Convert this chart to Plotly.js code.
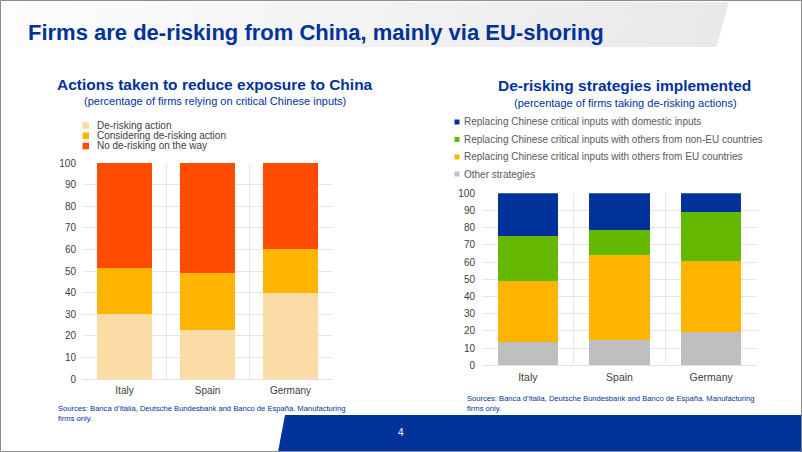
<!DOCTYPE html>
<html><head><meta charset="utf-8">
<script src="https://cdn.plot.ly/plotly-3.0.1.min.js"></script>
<style>html,body{margin:0;padding:0;background:#fff}#chart{width:802px;height:452px}</style>
</head><body><div id="chart"></div>
<script>
// ---------- data ----------
const countries = ['Italy', 'Spain', 'Germany'];
const yTickVals = [0, 10, 20, 30, 40, 50, 60, 70, 80, 90, 100];

const actionNames = ['De-risking action', 'Considering de-risking action', 'No de-risking on the way'];
const deRiskingAction = [30, 22.5, 40];
const consideringAction = [21.5, 26.5, 20];
const noDeRisking = [48.5, 51, 40];

const strategyNames = [
  'Replacing Chinese critical inputs with domestic inputs',
  'Replacing Chinese critical inputs with others from non-EU countries',
  'Replacing Chinese critical inputs with others from EU countries',
  'Other strategies'
];
const domesticInputs = [25, 21.5, 11];
const nonEuCountries = [26, 14.5, 28.5];
const euCountries = [35.5, 49.5, 41];
const otherStrategies = [13.5, 14.5, 19.5];

const slideTitle = 'Firms are de-risking from China, mainly via EU-shoring';
const leftTitle = 'Actions taken to reduce exposure to China';
const leftSubtitle = '(percentage of firms relying on critical Chinese inputs)';
const rightTitle = 'De-risking strategies implemented';
const rightSubtitle = '(percentage of firms taking de-risking actions)';
const sourceLine1 = 'Sources: Banca d’Italia, Deutsche Bundesbank and Banco de España. Manufacturing';
const sourceLine2 = 'firms only.';
const pageNumber = '4';

// ---------- styling ----------
const W = 802, H = 452;
const px = x => x / W;
const py = y => 1 - y / H;
const BLUE = '#003299';
const FONT = 'Liberation Sans, Arial, sans-serif';
const leftColors = ['#FBDBA6', '#FFB400', '#FF4B00'];
const rightColors = ['#003299', '#65B800', '#FFB400', '#BFBFBF'];

const leftSeries = [deRiskingAction, consideringAction, noDeRisking];
const rightSeries = [otherStrategies, euCountries, nonEuCountries, domesticInputs];
const rightSeriesColors = [rightColors[3], rightColors[2], rightColors[1], rightColors[0]];
const rightSeriesNames = [strategyNames[3], strategyNames[2], strategyNames[1], strategyNames[0]];

const traces = [];
leftSeries.forEach((vals, i) => traces.push({
  type: 'bar', x: countries, y: vals, name: actionNames[i],
  marker: {color: leftColors[i], line: {width: 0}},
  xaxis: 'x', yaxis: 'y', showlegend: false, hoverinfo: 'skip'
}));
rightSeries.forEach((vals, i) => traces.push({
  type: 'bar', x: countries, y: vals, name: rightSeriesNames[i],
  marker: {color: rightSeriesColors[i], line: {width: 0}},
  xaxis: 'x2', yaxis: 'y2', showlegend: false, hoverinfo: 'skip'
}));

const tickFont = {family: FONT, size: 10, color: '#404040'};
function xAx(domain, size) {
  return {domain, type: 'category', showgrid: true, gridcolor: '#e6e6e6', gridwidth: 1,
    tickson: 'boundaries', ticks: '', showline: true, linecolor: '#e0e0e0', linewidth: 1,
    tickfont: Object.assign({}, tickFont, {size}), fixedrange: true, ticklabelstandoff: 2};
}
function yAx(domain, anchor) {
  return {domain, anchor, range: [0, 100], tickvals: yTickVals, showgrid: true, gridcolor: '#e6e6e6',
    gridwidth: 1, zeroline: false, showline: false, ticks: '', tickfont: tickFont,
    ticklabelstandoff: 6, fixedrange: true};
}

// header gradient strips
const shapes = [];
const nStrips = 30, hx0 = 0, hx1 = 728, hy0 = 2, hy1 = 47, slant = 12;
for (let i = 0; i < nStrips; i++) {
  const a = hx0 + (hx1 - hx0) * i / nStrips, b = hx0 + (hx1 - hx0) * (i + 1) / nStrips + 0.6;
  const t = i / (nStrips - 1);
  const c = Math.round(253 - t * 20);
  shapes.push({type: 'path', xref: 'paper', yref: 'paper', layer: 'below', line: {width: 0},
    fillcolor: `rgb(${c},${c},${c})`,
    path: `M${px(a)},${py(hy0)} L${px(b)},${py(hy0)} L${px(b - slant)},${py(hy1)} L${px(a - slant)},${py(hy1)} Z`});
}
// bottom blue band
shapes.push({type: 'path', xref: 'paper', yref: 'paper', layer: 'below', line: {width: 0}, fillcolor: BLUE,
  path: `M${px(285)},${py(415)} L${px(802)},${py(415)} L${px(802)},${py(452)} L${px(278)},${py(452)} Z`});
// slide border
shapes.push({type: 'rect', xref: 'paper', yref: 'paper', layer: 'above', fillcolor: 'rgba(0,0,0,0)',
  line: {color: '#8a8a8a', width: 1}, x0: px(0.5), x1: px(801.5), y0: py(0.5), y1: py(451.5)});

const annotations = [];
function txt(text, x, y, size, opts) {
  annotations.push(Object.assign({text, x: px(x), y: py(y), xref: 'paper', yref: 'paper', showarrow: false,
    xanchor: 'left', yanchor: 'middle', font: {family: FONT, size, color: '#404040'}}, opts || {}));
}
// titles
txt('<b>' + slideTitle + '</b>', 26, 32, 22, {font: {family: FONT, size: 22, color: BLUE}});
txt('<b>' + leftTitle + '</b>', 215, 84, 15.5, {xanchor: 'center', font: {family: FONT, size: 15.5, color: BLUE}});
txt(leftSubtitle, 215, 101, 11, {xanchor: 'center', font: {family: FONT, size: 11, color: BLUE}});
txt('<b>' + rightTitle + '</b>', 624, 86, 15.5, {xanchor: 'center', font: {family: FONT, size: 15.5, color: BLUE}});
txt(rightSubtitle, 625, 103, 11, {xanchor: 'center', font: {family: FONT, size: 11, color: BLUE}});

// legends (left)
const leftLegY = [125.5, 135.8, 146];
actionNames.forEach((n, i) => {
  shapes.push({type: 'rect', xref: 'paper', yref: 'paper', line: {width: 0}, fillcolor: leftColors[i],
    x0: px(82.5), x1: px(89), y0: py(leftLegY[i] - 3.3), y1: py(leftLegY[i] + 3.3)});
  txt(n, 95, leftLegY[i], 10, {font: {family: FONT, size: 10, color: '#404040'}});
});
// legends (right)
const rightLegY = [122, 139.5, 157, 174];
strategyNames.forEach((n, i) => {
  shapes.push({type: 'rect', xref: 'paper', yref: 'paper', line: {width: 0}, fillcolor: rightColors[i],
    x0: px(454.5), x1: px(459.5), y0: py(rightLegY[i] - 2.5), y1: py(rightLegY[i] + 2.5)});
  txt(n, 461.5, rightLegY[i], 10, {font: {family: FONT, size: 10, color: '#595959'}});
});
// sources
txt(sourceLine1, 55.5, 408, 7.6, {font: {family: FONT, size: 7.6, color: BLUE}});
txt(sourceLine2, 55.5, 418, 7.6, {font: {family: FONT, size: 7.6, color: BLUE}});
txt(sourceLine1, 464.5, 398, 7.6, {font: {family: FONT, size: 7.6, color: BLUE}});
txt(sourceLine2, 464.5, 408, 7.6, {font: {family: FONT, size: 7.6, color: BLUE}});
// page number
txt(pageNumber, 401, 432, 10, {xanchor: 'center', font: {family: FONT, size: 10, color: '#ffffff'}});

const layout = {
  width: W, height: H, margin: {l: 0, r: 0, t: 0, b: 0, pad: 0},
  paper_bgcolor: '#ffffff', plot_bgcolor: 'rgba(0,0,0,0)',
  barmode: 'stack', bargap: 0.34, showlegend: false,
  font: {family: FONT},
  xaxis: Object.assign(xAx([px(83), px(332)], 10), {anchor: 'y'}),
  yaxis: yAx([py(379), py(163)], 'x'),
  xaxis2: Object.assign(xAx([px(482), px(757)], 10.5), {anchor: 'y2'}),
  yaxis2: yAx([py(365.3), py(193.3)], 'x2'),
  shapes, annotations
};
Plotly.newPlot('chart', traces, layout, {displayModeBar: false, staticPlot: true});
</script></body></html>
